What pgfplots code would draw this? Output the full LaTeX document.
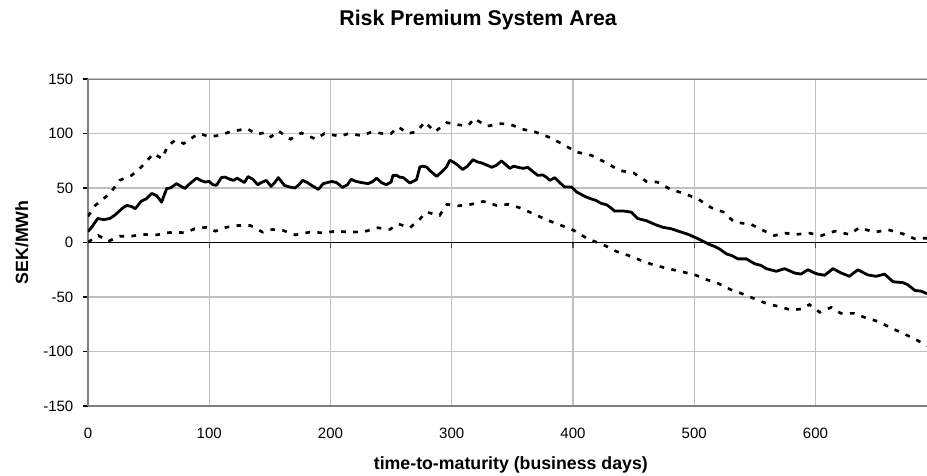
\documentclass[border=0pt]{standalone}
\usepackage{fontspec}
\setmainfont{Liberation Sans}
\usepackage{pgfplots}
\pgfplotsset{compat=1.18}
\definecolor{gridgray}{HTML}{C0C0C0}
\definecolor{framegray}{HTML}{808080}
\begin{document}
\begin{tikzpicture}
\useasboundingbox (-66pt,-51.75pt) rectangle (629.25pt,304.5pt);
\begin{axis}[
  at={(0pt,0pt)}, anchor=south west,
  scale only axis, width=629.25pt, height=245.25pt,
  xmin=0, xmax=692, ymin=-150, ymax=150,
  xtick={0,100,...,600}, ytick={-150,-100,...,150},
  axis x line*=bottom, axis y line*=left,
  axis line style={-, framegray, line width=1.2pt},
  grid=major, major grid style={gridgray, line width=0.8pt},
  xtick style={draw=none},
  ytick style={black, line width=0.8pt},
  tick align=outside, major tick length=4pt,
  ticklabel style={font=\fontsize{11.25}{13}\selectfont},
  /pgf/number format/assume math mode=true,
  xticklabel style={yshift=-9pt},
  yticklabel style={xshift=-3.5pt},
  title={Risk Premium System Area},
  title style={at={(axis description cs:0.465,1.139)}, anchor=base, font=\bfseries\fontsize{16}{19}\selectfont},
  xlabel={time-to-maturity (business days)},
  xlabel style={at={(axis description cs:0.504,-0.1927)}, anchor=base, font=\bfseries\fontsize{13.3}{16}\selectfont},
  ylabel={SEK/MWh},
  ylabel style={at={(axis description cs:-0.0787,0.5)}, anchor=center, font=\bfseries\fontsize{13.3}{16}\selectfont},
]
\draw[framegray, line width=1.2pt] (rel axis cs:0,1) -- (rel axis cs:1,1);
\draw[black, line width=0.9pt] (axis cs:0,0) -- (axis cs:692,0);
\pgfplotsinvokeforeach{100,200,...,600}{\draw[black!70, line width=0.9pt] (axis cs:#1,0) -- ++(0pt,-4pt);}
% upper bound
\addplot[black, line width=2pt, dash pattern=on 3.5pt off 5.5pt] coordinates {
(0,24) (6,34) (11,38.6) (18,44.8) (26,57) (36,61.6) (44,69.3) (54,81.6) (61,77) (66,89)
(72,93.8) (79,90.8) (87,96.9) (92,100) (100,97) (109,98.4) (117,101.5) (124,103) (131,104.6) (139,99.4)
(147,101) (151,97) (157,102.4) (167,94.8) (176,100.5) (188,94.8) (195,100) (208,97.5) (215,100) (226,98)
(234,101.5) (243,100) (250,100) (256,106) (264,100) (271,101.6) (278,110.7) (286,101.5) (296,110) (305,108)
(313.5,107) (318.5,113.8) (329,106.7) (340,109) (348,108.5) (358,104) (368.5,101.5) (381,96.3) (390.5,90.8) (403,83)
(415,80) (427.6,73) (438.6,66) (450,63.8) (460.6,56) (469.6,55.4) (480,49) (492,44.8) (503,40) (514,32)
(524,28) (533,18.7) (547,16.6) (557,11) (566,6.4) (575,8.6) (584,7.4) (595,8.6) (605,6.4) (616,10.4)
(628,7.4) (636,13.5) (649,9.5) (660,11.7) (672,8) (682,3.4) (692,4)
};
% lower bound
\addplot[black, line width=2pt, dash pattern=on 3.5pt off 5.5pt] coordinates {
(0,0.3) (8.5,6.4) (17,1.2) (26,5.8) (36,5.8) (44,7.4) (57,7) (65,8.9) (72,9.5) (80,8.9)
(88,12.6) (98,14) (105,10.4) (114,14) (124,15.6) (134,15.6) (144,9.5) (152,12) (161,11) (171,7)
(183,9.5) (194,8.9) (205,10.4) (216,9.5) (228,10) (239,13.5) (249,12) (256,17) (265.5,13.5) (274,21.8)
(279,27.9) (290,24.8) (296,35) (305,33.6) (316,35) (326,37.7) (337,34) (346.5,35) (356,31.9) (368.5,25.8)
(380,20) (390.5,15.6) (401,11) (412,3.4) (425,-2) (436,-8.3) (446,-12) (456.5,-16.6) (465,-20) (476,-23.3)
(488,-26.4) (500,-29.4) (510,-34) (519.6,-37.4) (530.6,-43.5) (541.6,-47.8) (552.6,-53) (561,-56.4) (570.5,-58.9) (580,-62)
(588,-61) (595,-57) (603.5,-64) (613,-59.5) (621,-65) (632,-65) (640.5,-68.7) (651.5,-72.4) (662.6,-78.5) (673.5,-84)
(684.5,-90) (692,-94.8)
};
% risk premium
\addplot[black, line width=2.1pt, line join=round] coordinates {
(0,10) (3,14) (8,22) (13,21) (18,22) (22,25) (25,28) (29,32) (32,34) (36,33)
(39,31) (44,38) (48,40) (52.5,45) (56.6,43) (60.7,37) (63,44) (65,49.6) (68,50) (73,54)
(76,52) (80,49.6) (84,54) (89.6,59) (93,57) (96.5,55.5) (100,56) (103,53) (106,52.5) (110,59.5)
(113,60) (117,58) (120,57) (123,59) (126,57) (129,55) (132,60.5) (136,58) (140,53) (143,55)
(147,57) (151,51.5) (154,55) (157,59.5) (162,52.4) (166,51) (170.6,50) (174,53) (177,57) (181,55)
(184.4,52.4) (190,48.7) (194,54) (201,56) (205,55) (210,50.5) (214,53) (217,58) (221,56) (225.6,55)
(231,54) (235,56) (238,59) (242,55) (246,53) (250,55.5) (251.5,61.6) (254.5,61.6) (257,60) (260,59.5)
(265.5,54.6) (268,56) (271,57.7) (273.7,69.3) (276,70) (279,69.3) (283,65) (287.5,60.7) (291,64) (295.7,69.3)
(298.4,75.4) (301,74) (304,71.8) (309,67) (313,70) (317.5,76) (321,74) (324.6,73) (329,71) (333,69)
(337,71) (341,74.8) (345,71) (348,68) (351,70) (354.6,69) (359,68) (362.7,69) (367,65) (371,61.6)
(375,62) (378,60) (381,57) (385,59.5) (389,55) (393,51) (398.7,51) (403,46.3) (407,44) (411,41.7)
(415,40) (419,38.6) (423,36) (427.6,34.7) (431,32) (434.4,28.8) (441,29) (448,27.9) (453.4,22) (460.6,20)
(467.5,16.6) (474,14) (481,12.6) (489.4,9.5) (495,7.5) (499,5.5) (504,3) (508.7,0.3) (513,-2) (517,-3.7)
(521,-6) (526.5,-10.4) (531,-12) (536,-15) (543,-15) (550,-19.6) (555,-21) (559.5,-24) (567.7,-26.4) (574.5,-24)
(582.8,-28) (588,-29) (593.7,-25) (599.4,-28) (602,-29) (607.6,-30) (614.4,-24) (621.3,-28) (628,-31) (635,-25)
(643,-29.7) (650,-31) (657,-29) (664,-36) (672,-36.8) (676,-38.6) (682,-44) (687,-44.6) (692,-47)
};
\end{axis}
\end{tikzpicture}
\end{document}
